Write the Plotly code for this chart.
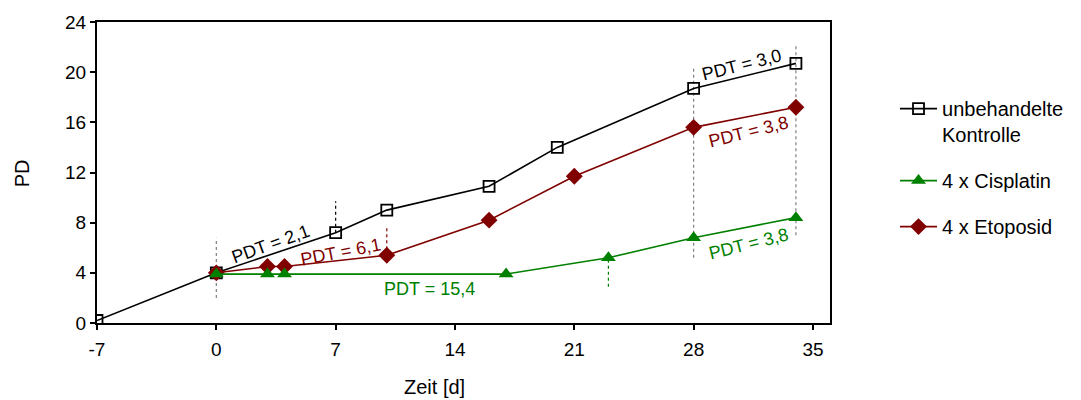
import plotly.graph_objects as go

# Data
days_ctrl = [-7, 0, 7, 10, 16, 20, 28, 34]
pd_ctrl = [0.2, 4.0, 7.2, 9.0, 10.9, 14.0, 18.7, 20.7]

days_cis = [0, 3, 4, 17, 23, 28, 34]
pd_cis = [3.9, 3.9, 3.9, 3.9, 5.2, 6.8, 8.4]

days_eto = [0, 3, 4, 10, 16, 21, 28, 34]
pd_eto = [4.0, 4.5, 4.5, 5.4, 8.2, 11.7, 15.6, 17.2]

# vertical dotted guide lines: x, y_low, y_high, color
guide_x = [0, 7, 10, 23, 28, 34]
guide_lo = [2.0, 7.2, 5.4, 2.9, 5.2, 7.0]
guide_hi = [6.8, 9.7, 7.6, 5.2, 20.3, 22.3]
guide_col = ["#808080", "#000000", "#800000", "#008000", "#808080", "#808080"]

# PDT annotations
pdt_text = ["PDT = 2,1", "PDT = 6,1", "PDT = 15,4", "PDT = 3,0", "PDT = 3,8", "PDT = 3,8"]
pdt_x = [3.2, 7.3, 12.5, 30.8, 31.2, 31.2]
pdt_y = [6.3, 5.7, 2.7, 20.6, 15.2, 6.3]
pdt_angle = [-20, -11, 0, -14, -14, -14]
pdt_col = ["#000000", "#800000", "#008000", "#000000", "#800000", "#008000"]

xticks = [-7, 0, 7, 14, 21, 28, 35]
yticks = [0, 4, 8, 12, 16, 20, 24]

FONT = "Liberation Sans, Arial, sans-serif"

fig = go.Figure()

for gx, lo, hi, c in zip(guide_x, guide_lo, guide_hi, guide_col):
    fig.add_trace(go.Scatter(x=[gx, gx], y=[lo, hi], mode="lines",
                             line=dict(color=c, width=1.2, dash="dot"),
                             showlegend=False, hoverinfo="skip"))

fig.add_trace(go.Scatter(x=days_ctrl, y=pd_ctrl, mode="lines+markers",
                         name="unbehandelte<br>Kontrolle", legendrank=1, legendgroup="a",
                         line=dict(color="black", width=1.6),
                         marker=dict(symbol="square-open", size=11, color="black",
                                     line=dict(width=1.8, color="black"))))
fig.add_trace(go.Scatter(x=days_eto, y=pd_eto, mode="lines+markers",
                         name="4 x Etoposid", legendrank=3, legendgroup="c",
                         line=dict(color="#800000", width=1.6),
                         marker=dict(symbol="diamond", size=13, color="#800000")))
fig.add_trace(go.Scatter(x=days_cis, y=pd_cis, mode="lines+markers",
                         name="4 x Cisplatin", legendrank=2, legendgroup="b",
                         line=dict(color="#008000", width=1.6),
                         marker=dict(symbol="triangle-up", size=13, color="#008000")))

for t, x, y, a, c in zip(pdt_text, pdt_x, pdt_y, pdt_angle, pdt_col):
    fig.add_annotation(x=x, y=y, text=t, textangle=a, showarrow=False,
                       font=dict(family=FONT, size=18, color=c))

# axis titles placed as annotations
fig.add_annotation(xref="paper", yref="paper", x=0.461, y=-0.211, text="Zeit [d]",
                   showarrow=False, xanchor="center", yanchor="middle",
                   font=dict(family=FONT, size=20, color="black"))
fig.add_annotation(xref="paper", yref="paper", x=-0.102, y=0.498, text="PD", textangle=-90,
                   showarrow=False, xanchor="center", yanchor="middle",
                   font=dict(family=FONT, size=20, color="black"))

fig.update_xaxes(range=[-7, 36], tickvals=xticks, ticktext=[str(v) for v in xticks],
                 ticks="outside", ticklen=5, tickwidth=1.5, tickcolor="black",
                 ticklabelstandoff=3,
                 showline=True, linecolor="black", linewidth=2, mirror=True,
                 showgrid=False, zeroline=False,
                 tickfont=dict(family=FONT, size=19, color="black"))
fig.update_yaxes(range=[0, 24], tickvals=yticks,
                 ticks="outside", ticklen=5, tickwidth=1.5, tickcolor="black",
                 showline=True, linecolor="black", linewidth=2, mirror=True,
                 showgrid=False, zeroline=False,
                 tickfont=dict(family=FONT, size=19, color="black"))

fig.update_layout(
    width=1081, height=400,
    margin=dict(l=97, r=251, t=20, b=77),
    paper_bgcolor="white", plot_bgcolor="white",
    legend=dict(x=1.0887, y=0.777, xanchor="left", yanchor="top",
                font=dict(family=FONT, size=20, color="black"),
                traceorder="grouped", tracegroupgap=17, valign="top",
                itemwidth=37, bgcolor="rgba(0,0,0,0)"),
)

fig.write_html("out.html")
